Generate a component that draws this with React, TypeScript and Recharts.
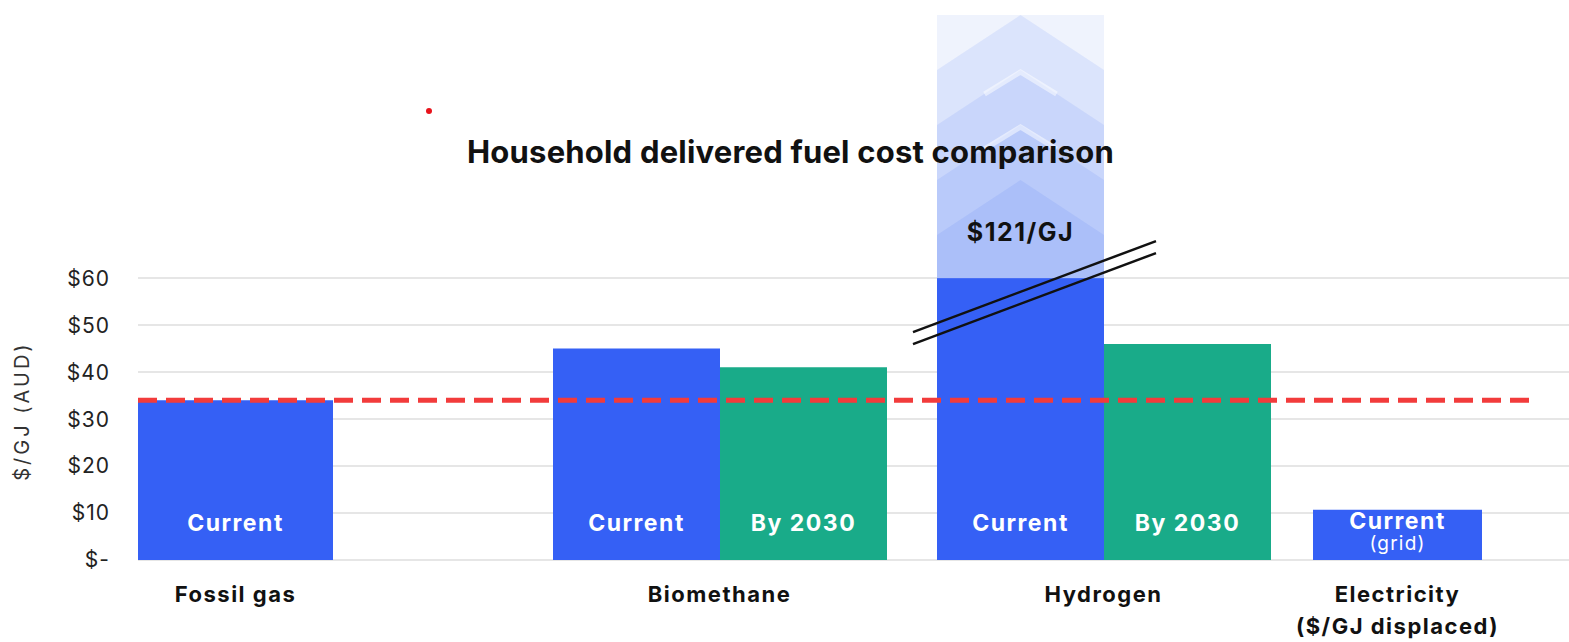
import React from 'react'
import { BarChart, Bar, XAxis, YAxis, CartesianGrid, ReferenceLine, LabelList, Label } from 'recharts'

// categories and values ($/GJ, AUD)
const categories = ['Fossil gas', 'Biomethane', 'Hydrogen', 'Electricity']
const categoryNotes = ['', '', '', '($/GJ displaced)']
const currentCost = [34, 45, 121, 10.7]
const by2030Cost: (number | null)[] = [null, 41, 46, null]
const currentNotes = ['', '', '', '(grid)']
const fossilGasLine = 34

const yTicks = [0, 10, 20, 30, 40, 50, 60]
const axisCap = 60 // bars above this are drawn as a break
const yMax = 116 // top of the visible axis area

const BLUE = '#3560f5'
const GREEN = '#19ab89'
const FONT = 'Inter, "Noto Sans", sans-serif'

// one row per group, built from the arrays above
const rows = categories.map((group, i) => {
  const v = currentCost[i]
  const shown = Math.min(v, axisCap)
  return {
    group,
    note: categoryNotes[i],
    current: shown,
    overflow: v > axisCap ? Math.min(v, yMax) - axisCap : null,
    actual: v,
    by2030: by2030Cost[i],
    currentNote: currentNotes[i],
  }
})

// where each group sits on the page (plot area left edge and width)
const groupBoxes = [
  { left: 138, width: 195 },
  { left: 553, width: 333 },
  { left: 937, width: 333 },
  { left: 1313, width: 169 },
]

const CHART_H = 642
const TOP = 15
const X_AXIS_H = 82

const GroupTick = (props: any) => {
  const { x, y, payload } = props
  const row = rows.find(r => r.group === payload.value)
  const style = { fontSize: 22, fontWeight: 700, fontFamily: FONT, letterSpacing: 1.5 }
  return (
    <g>
      <text x={x} y={y + 34} textAnchor="middle" fill="#111" style={style}>
        {payload.value}
      </text>
      {row && row.note && (
        <text x={x} y={y + 66} textAnchor="middle" fill="#111" style={style}>
          {row.note}
        </text>
      )}
    </g>
  )
}

const barText = (main: string, index: number) => (props: any) => {
  const { x, y, width, height } = props
  const cx = x + width / 2
  const bottom = y + height
  const note = rows[index].currentNote
  return (
    <g>
      <text x={cx} y={bottom - (note ? 31 : 29)} textAnchor="middle" fill="#fff" style={{ fontSize: 23, fontWeight: 700, fontFamily: FONT, letterSpacing: 1.5 }}>
        {main}
      </text>
      {note && (
        <text x={cx} y={bottom - 10} textAnchor="middle" fill="#fff" style={{ fontSize: 19, fontFamily: FONT, letterSpacing: 1.2 }}>
          {note}
        </text>
      )}
    </g>
  )
}

// light chevron column for the part of the bar that runs off the axis
const OverflowShape = (props: any) => {
  const { x, y, width, height, payload } = props
  if (!height) return null
  const cx = x + width / 2
  const bottom = y + height
  const step = 55
  const peaks = [0, 1, 2, 3].map(i => y + i * step)
  return (
    <g>
      <rect x={x} y={y} width={width} height={height} fill="#eff3fd" />
      {peaks.map((p, i) => (
        <polygon
          key={i}
          points={`${x},${p + step} ${cx},${p} ${x + width},${p + step} ${x + width},${bottom} ${x},${bottom}`}
          fill={BLUE}
          fillOpacity={0.1}
        />
      ))}
      {peaks.slice(1, 3).map((p, i) => (
        <polyline
          key={'w' + i}
          points={`${cx - 36},${p + 24} ${cx},${p + 2} ${cx + 36},${p + 24}`}
          fill="none"
          stroke="#fff"
          strokeOpacity={0.5}
          strokeWidth={5}
        />
      ))}
      <text x={cx} y={bottom - 37} textAnchor="middle" fill="#111" style={{ fontSize: 25, fontWeight: 700, fontFamily: FONT, letterSpacing: 1.5 }}>
        {`$${payload.actual}/GJ`}
      </text>
      <line x1={x - 24} y1={bottom + 54} x2={x + width + 52} y2={bottom - 37} stroke="#111" strokeWidth={2.5} />
      <line x1={x - 24} y1={bottom + 66} x2={x + width + 52} y2={bottom - 25} stroke="#111" strokeWidth={2.5} />
    </g>
  )
}

function GroupChart({ index }: { index: number }) {
  const pad = 60
  const box = groupBoxes[index]
  const row = rows[index]
  return (
    <div style={{ position: 'absolute', left: box.left - pad, top: 0 }}>
      <BarChart
        width={box.width + pad * 2}
        height={CHART_H}
        data={[row]}
        margin={{ top: TOP, right: pad, bottom: 0, left: pad }}
        barCategoryGap={0}
        barGap={0}
      >
        <XAxis dataKey="group" height={X_AXIS_H} axisLine={false} tickLine={false} interval={0} tick={(p: any) => <GroupTick {...p} />} />
        <YAxis hide domain={[0, yMax]} />
        <Bar dataKey="current" stackId="c" fill={BLUE} isAnimationActive={false}>
          <LabelList dataKey="current" content={barText('Current', index)} />
        </Bar>
        {row.overflow != null && (
          <Bar dataKey="overflow" stackId="c" fill="#eff3fd" shape={(p: any) => <OverflowShape {...p} />} isAnimationActive={false} />
        )}
        {row.by2030 != null && (
          <Bar dataKey="by2030" fill={GREEN} isAnimationActive={false}>
            <LabelList dataKey="by2030" content={barText('By 2030', index)} />
          </Bar>
        )}
      </BarChart>
    </div>
  )
}

const yLabel = (props: any) => {
  const vb = props.viewBox || { x: 0, y: TOP, width: 138, height: CHART_H - TOP - X_AXIS_H }
  const cx = vb.x + 24
  const cy = vb.y + vb.height * (1 - axisCap / 2 / yMax) - 8
  return (
    <text x={cx} y={cy} transform={`rotate(-90 ${cx} ${cy})`} textAnchor="middle" dominantBaseline="middle" fill="#333" style={{ fontSize: 20, fontFamily: FONT, letterSpacing: 3 }}>
      $/GJ (AUD)
    </text>
  )
}

export default function App() {
  return (
    <div style={{ position: 'absolute', left: 0, top: 0, width: 1569, height: CHART_H, background: '#fff', overflow: 'hidden', fontFamily: FONT }}>
      {/* axis and gridlines */}
      <div style={{ position: 'absolute', left: 0, top: 0 }}>
        <BarChart width={1569} height={CHART_H} data={rows} margin={{ top: TOP, right: 0, bottom: X_AXIS_H, left: 0 }}>
          <CartesianGrid vertical={false} horizontalValues={yTicks} stroke="#e6e6e6" strokeWidth={2} />
          <XAxis dataKey="group" hide />
          <YAxis
            domain={[0, yMax]}
            ticks={yTicks}
            width={138}
            axisLine={false}
            tickLine={false}
            tickMargin={22}
            tickFormatter={(v: number) => (v === 0 ? '$-' : `$${v}`)}
            tick={{ fill: '#222', fontSize: 21, fontFamily: FONT, letterSpacing: 1 }}
          >
            <Label content={yLabel} />
          </YAxis>
          <Bar dataKey="current" fill="none" isAnimationActive={false} />
        </BarChart>
      </div>

      {rows.map((_, i) => (
        <GroupChart key={i} index={i} />
      ))}

      {/* fossil gas price line, drawn over the bars */}
      <div style={{ position: 'absolute', left: 0, top: 0, pointerEvents: 'none' }}>
        <BarChart width={1569} height={CHART_H} data={rows} margin={{ top: TOP, right: 32, bottom: X_AXIS_H, left: 138 }}>
          <XAxis dataKey="group" hide />
          <YAxis hide domain={[0, yMax]} />
          <Bar dataKey="current" fill="none" isAnimationActive={false} />
          <ReferenceLine y={fossilGasLine} stroke="#f23b3b" strokeWidth={5} strokeDasharray="19 9" />
        </BarChart>
      </div>

      <div style={{ position: 'absolute', left: 426, top: 108, width: 6, height: 6, borderRadius: 3, background: '#e8131b' }} />
      <div style={{ position: 'absolute', left: 467, top: 134, fontSize: 31, fontWeight: 700, color: '#111', lineHeight: '36px', whiteSpace: 'nowrap', letterSpacing: 0.2 }}>
        Household delivered fuel cost comparison
      </div>
    </div>
  )
}
